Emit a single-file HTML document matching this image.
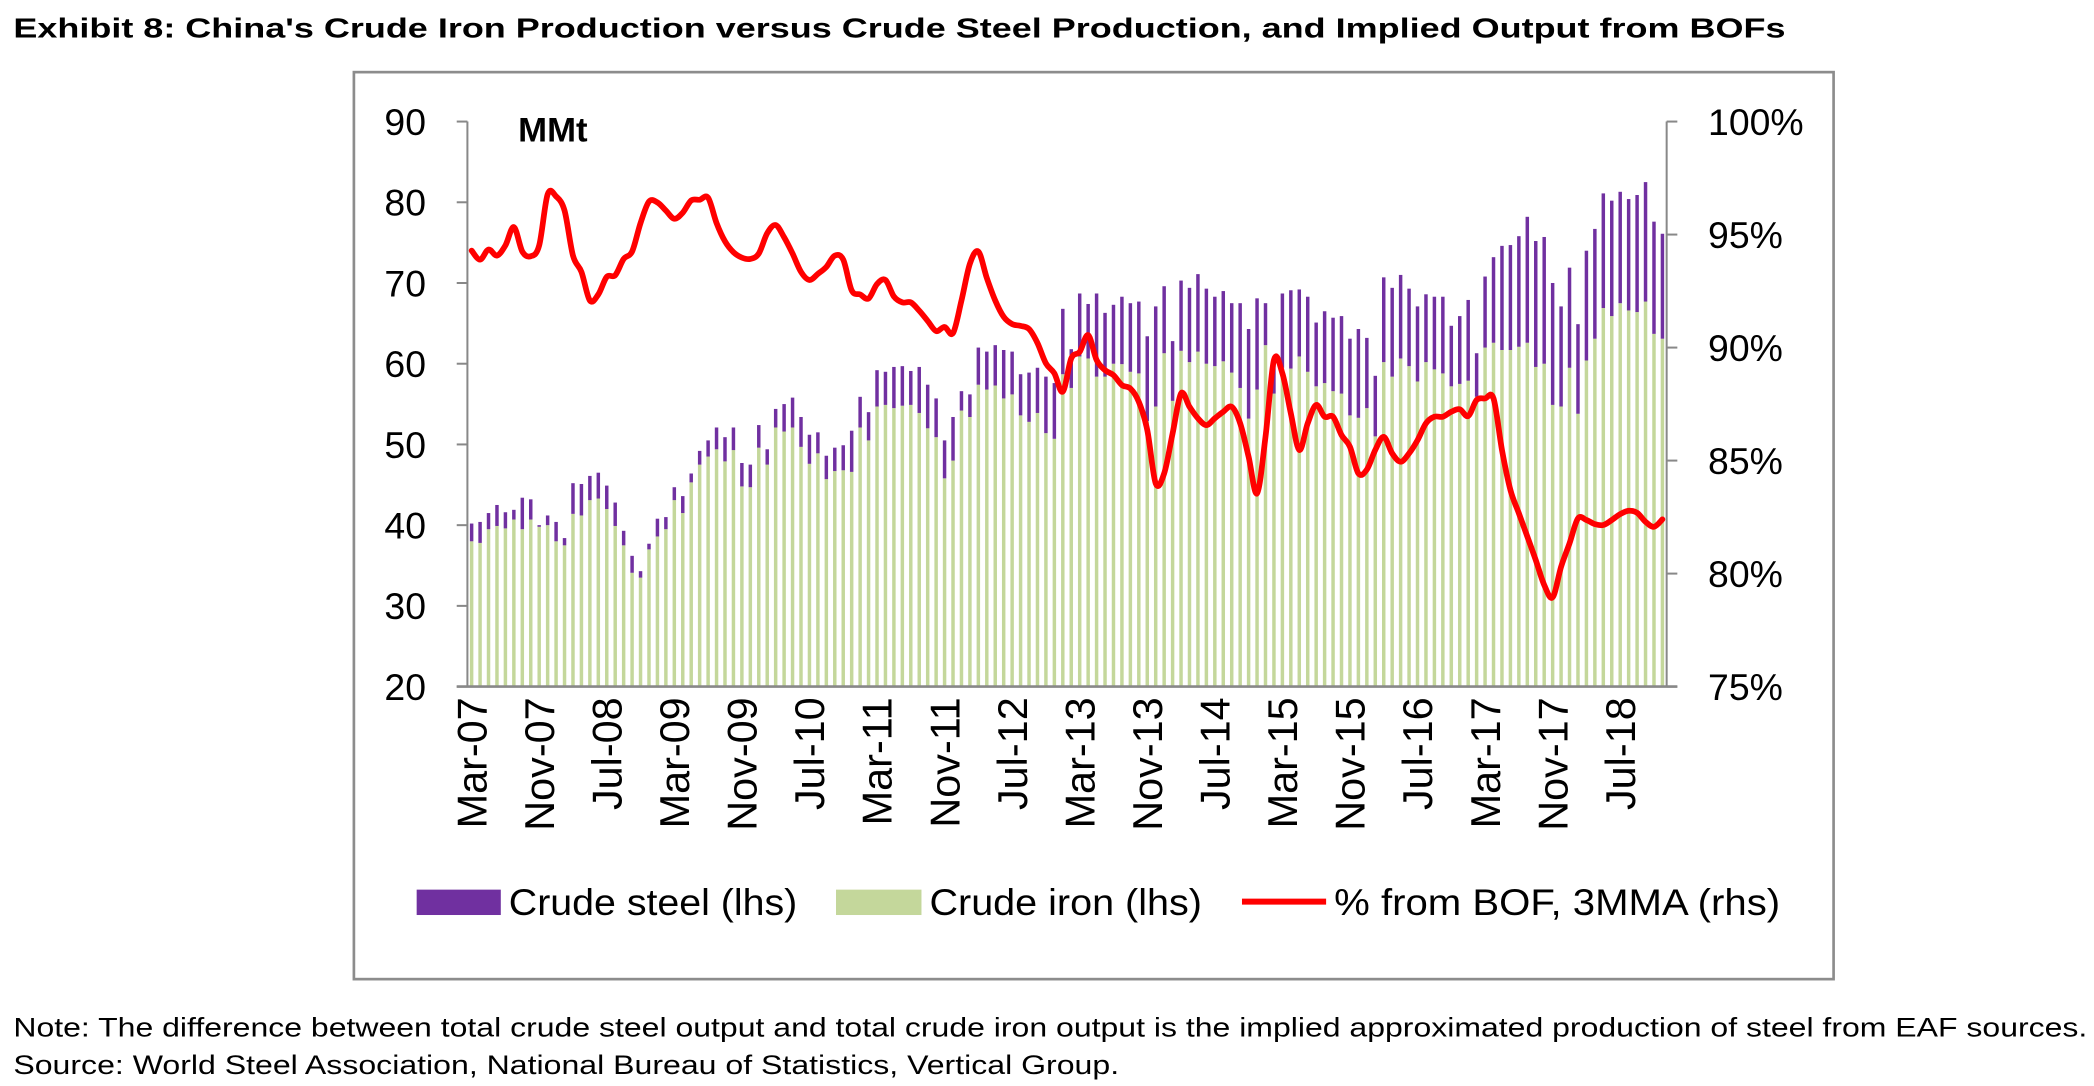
<!DOCTYPE html>
<html><head><meta charset="utf-8">
<style>
html,body{margin:0;padding:0;background:#fff;}
svg{display:block;}
text{font-family:"Liberation Sans",Arial,sans-serif;fill:#000;}
</style></head>
<body>
<svg id="chart" width="2094" height="1086" viewBox="0 0 1568 813" preserveAspectRatio="none" xmlns="http://www.w3.org/2000/svg">
  <text x="10" y="28" font-size="20.5" font-weight="bold" textLength="1327" lengthAdjust="spacingAndGlyphs">Exhibit 8: China's Crude Iron Production versus Crude Steel Production, and Implied Output from BOFs</text>
  <rect x="265" y="54" width="1108" height="679" fill="#fff" stroke="#8c8c8c" stroke-width="2"/>
  <g id="bars"></g>
  <g id="axes"></g>
  <path id="bofLine" fill="none" stroke="#ff0000" stroke-width="4.3" stroke-linejoin="round" stroke-linecap="round"/>
  <text x="388" y="106" font-size="26" font-weight="bold">MMt</text>
  <g>
    <rect x="312" y="666" width="63" height="19" fill="#7030a0"/>
    <text x="381" y="685" font-size="28" textLength="216" lengthAdjust="spacingAndGlyphs">Crude steel (lhs)</text>
    <rect x="626" y="666" width="64" height="19" fill="#c4d79b"/>
    <text x="696" y="685" font-size="28" textLength="204" lengthAdjust="spacingAndGlyphs">Crude iron (lhs)</text>
    <line x1="930" y1="675" x2="993" y2="675" stroke="#ff0000" stroke-width="4.5"/>
    <text x="999" y="685" font-size="28" textLength="334" lengthAdjust="spacingAndGlyphs">% from BOF, 3MMA (rhs)</text>
  </g>
  <text x="10" y="776" font-size="20" textLength="1553" lengthAdjust="spacingAndGlyphs">Note: The difference between total crude steel output and total crude iron output is the implied approximated production of steel from EAF sources.</text>
  <text x="10" y="804" font-size="20" textLength="828" lengthAdjust="spacingAndGlyphs">Source: World Steel Association, National Bureau of Statistics, Vertical Group.</text>
</svg>
<script>
const steel = [40.2,40.4,41.5,42.5,41.6,41.9,43.4,43.2,40.0,41.2,40.4,38.4,45.2,45.1,46.1,46.5,44.9,42.8,39.3,36.2,34.3,37.7,40.8,41.0,44.7,43.6,46.4,49.2,50.5,52.1,50.9,52.1,47.7,47.5,52.4,49.4,54.4,55.0,55.8,53.4,51.2,51.5,48.6,49.6,49.9,51.7,55.9,54.0,59.2,59.0,59.6,59.7,59.1,59.6,57.4,55.7,50.5,53.4,56.6,56.2,62.0,61.5,62.3,61.7,61.5,58.7,58.9,59.5,58.4,57.6,66.8,61.8,68.7,67.4,68.7,66.3,67.3,68.3,67.5,67.7,63.4,67.1,69.6,62.8,70.3,69.4,71.1,69.3,68.3,69.0,67.5,67.5,64.3,68.1,67.5,60.9,68.7,69.1,69.2,68.3,65.1,66.5,65.7,65.9,63.1,64.3,63.2,58.5,70.7,69.4,71.0,69.3,67.1,68.6,68.3,68.3,64.7,65.9,67.9,61.3,70.8,73.2,74.6,74.7,75.8,78.2,75.2,75.7,70.0,67.1,71.9,64.9,74.0,76.7,81.1,80.2,81.3,80.4,80.9,82.5,77.6,76.1];
const iron = [38.0,37.8,39.5,39.9,39.6,40.7,39.5,40.7,39.8,40.0,38.0,37.5,41.4,41.2,43.1,43.3,42.0,39.9,37.5,34.1,33.5,37.0,38.6,39.5,43.1,41.5,45.3,47.5,48.5,49.4,47.9,49.3,44.8,44.7,49.6,47.5,52.1,51.6,52.1,49.7,47.6,48.9,45.7,46.7,46.8,46.6,52.1,50.5,54.7,54.9,54.5,54.8,54.9,53.9,52.0,50.9,45.8,48.0,54.2,53.4,57.4,56.8,57.3,55.7,56.2,53.6,52.8,53.9,51.4,50.7,58.7,57.0,60.9,60.65,58.4,58.4,60.0,59.95,59.0,58.8,52.9,54.7,61.3,55.4,61.6,60.2,61.5,60.0,59.7,60.3,58.9,57.0,53.2,56.8,62.3,56.3,59.5,59.4,60.9,59.0,57.2,57.6,56.6,56.3,53.6,53.3,54.5,51.0,60.2,58.4,60.65,59.7,57.8,60.2,59.3,58.8,57.2,57.5,57.9,55.9,62.0,62.6,61.7,61.7,62.1,62.6,59.6,60.0,54.9,54.7,59.5,53.8,60.4,63.1,66.9,65.9,67.5,66.6,66.4,67.7,63.7,63.1];
const bof = [94.29,93.89,94.34,94.07,94.52,95.33,94.25,94.04,94.52,96.78,96.69,96.06,94.07,93.35,92.08,92.35,93.13,93.20,93.92,94.25,95.51,96.46,96.42,96.06,95.70,95.97,96.51,96.54,96.63,95.51,94.70,94.22,93.98,93.92,94.16,95.06,95.42,94.88,94.16,93.35,92.99,93.26,93.57,94.07,93.89,92.53,92.35,92.17,92.81,92.99,92.26,92.0,92.0,91.63,91.18,90.73,90.91,90.64,92.08,93.71,94.25,93.08,92.08,91.36,91.04,90.96,90.82,90.2,89.30,88.86,88.05,89.52,89.81,90.55,89.45,89.0,88.78,88.34,88.19,87.6,86.35,83.99,84.43,86.2,87.97,87.38,86.87,86.57,86.87,87.16,87.38,86.65,85.17,83.55,86.05,89.45,88.86,87.09,85.47,86.65,87.46,86.94,86.94,86.13,85.61,84.43,84.6,85.47,86.05,85.32,84.95,85.32,85.9,86.65,86.94,86.94,87.16,87.27,86.97,87.68,87.75,87.75,85.47,83.7,82.67,81.64,80.6,79.5,78.95,80.3,81.34,82.44,82.37,82.19,82.15,82.37,82.63,82.78,82.69,82.29,82.07,82.4];
const xTickLabels = ["Mar-07","Nov-07","Jul-08","Mar-09","Nov-09","Jul-10","Mar-11","Nov-11","Jul-12","Mar-13","Nov-13","Jul-14","Mar-15","Nov-15","Jul-16","Mar-17","Nov-17","Jul-18"];
const leftTicks = [20,30,40,50,60,70,80,90];
const rightTicks = [75,80,85,90,95,100];
const rightTickLabels = ["75%","80%","85%","90%","95%","100%"];

const NS = "http://www.w3.org/2000/svg";
const X0 = 350, X1 = 1248, Y0 = 514, Y1 = 91;
const N = steel.length;
const slot = (X1 - X0) / N;
function xC(i){ return X0 + (i + 0.5) * slot; }
function yL(v){ return Y0 - (v - 20) * (Y0 - Y1) / 70; }
function yR(p){ return Y0 - (p - 75) * (Y0 - Y1) / 25; }
function mk(tag, attrs, parent){
  const e = document.createElementNS(NS, tag);
  for (const k in attrs) e.setAttribute(k, attrs[k]);
  parent.appendChild(e);
  return e;
}
const bars = document.getElementById('bars');
const bw = 2.6;
for (let i = 0; i < N; i++){
  const g = mk('rect', {x: xC(i) - bw/2, y: yL(iron[i]), width: bw, height: yL(20) - yL(iron[i]), fill: '#c4d79b'}, bars);
  
  
  const s = mk('rect', {x: xC(i) - bw/2, y: yL(steel[i]), width: bw, height: Math.max(0, yL(iron[i]) - yL(steel[i])), fill: '#7030a0'}, bars);
  
  
}
const axes = document.getElementById('axes');
const ax = '#888';
let l;
l = mk('line', {x1: X0, y1: Y1, x2: X0, y2: Y0, stroke: ax, 'stroke-width': 1.5}, axes);


l = mk('line', {x1: X1, y1: Y1, x2: X1, y2: Y0, stroke: ax, 'stroke-width': 1.5}, axes);


l = mk('line', {x1: 342, y1: Y0, x2: 1256, y2: Y0, stroke: ax, 'stroke-width': 2}, axes);


leftTicks.forEach(v => {
  const t = mk('line', {x1: 342, y1: yL(v), x2: X0, y2: yL(v), stroke: ax, 'stroke-width': 1.5}, axes);
  
  
  const tx = mk('text', {x: 319, y: yL(v) + 10, 'font-size': 28, 'text-anchor': 'end'}, axes);
  tx.textContent = String(v);
  
  
});
rightTicks.forEach((p, k) => {
  const t = mk('line', {x1: X1, y1: yR(p), x2: 1256, y2: yR(p), stroke: ax, 'stroke-width': 1.5}, axes);
  
  
  const tx = mk('text', {x: 1279, y: yR(p) + 10, 'font-size': 28}, axes);
  tx.textContent = rightTickLabels[k];
  
  
});
xTickLabels.forEach((lab, k) => {
  const i = k * 8;
  const bx = xC(i) + 11;
  const tx = mk('text', {x: bx, y: 522, 'font-size': 31, 'text-anchor': 'end', transform: 'rotate(-90 ' + bx + ' 522)'}, axes);
  tx.textContent = lab;
  
  
});
const pts = bof.map((p, i) => [xC(i), yR(p)]);
let d = 'M' + pts[0][0].toFixed(2) + ' ' + pts[0][1].toFixed(2);
for (let i = 0; i < pts.length - 1; i++){
  const p0 = pts[Math.max(0, i-1)], p1 = pts[i], p2 = pts[i+1], p3 = pts[Math.min(pts.length-1, i+2)];
  const c1x = p1[0] + (p2[0]-p0[0])/6, c1y = p1[1] + (p2[1]-p0[1])/6;
  const c2x = p2[0] - (p3[0]-p1[0])/6, c2y = p2[1] - (p3[1]-p1[1])/6;
  d += ' C' + c1x.toFixed(2) + ' ' + c1y.toFixed(2) + ' ' + c2x.toFixed(2) + ' ' + c2y.toFixed(2) + ' ' + p2[0].toFixed(2) + ' ' + p2[1].toFixed(2);
}
document.getElementById('bofLine').setAttribute('d', d);
</script>
</body></html>
